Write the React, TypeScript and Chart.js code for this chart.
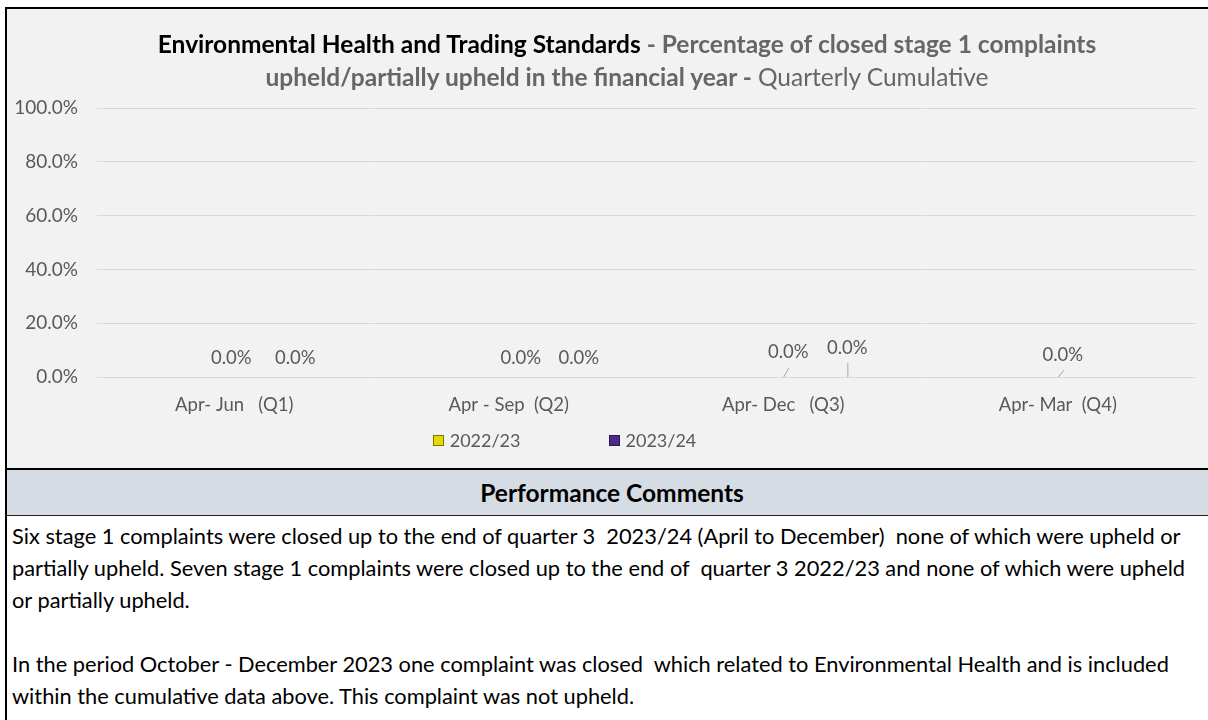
import React, { useEffect, useRef } from "react";
import { Chart, registerables } from "chart.js";

Chart.register(...registerables);

const categories = ["Apr- Jun   (Q1)", "Apr - Sep  (Q2)", "Apr- Dec   (Q3)", "Apr- Mar  (Q4)"];
const seriesNames = ["2022/23", "2023/24"];
const values2022 = [0, 0, 0, 0];
const values2023: (number | null)[] = [0, 0, 0, null];
const yTicks = [0, 0.2, 0.4, 0.6, 0.8, 1.0];

const seriesColors = ["#e3da00", "#4f2a87"];
const seriesBorders = ["#7d7800", "#2a1550"];

// label placement tweaks (style only): [dx, dy, leader [x0, x1, dy1] | null]
const labelPlacement: any[][] = [
  [[-3, -19, null], [12, -19, null], [5, -25, [0, 5, -9]], [5, -22, [0, 6, -7]]],
  [[-3, -19, null], [6, -19, null], [0, -29, [0, 0, -14]], null],
];

const FONT = "Lato, 'Open Sans', sans-serif";
const GREY = "#595959";

const labelPlugin = {
  id: "valueLabels",
  afterDatasetsDraw(chart: any) {
    const ctx = chart.ctx;
    ctx.save();
    ctx.font = `18.5px ${FONT}`;
    ctx.fillStyle = GREY;
    ctx.strokeStyle = "#a6a6a6";
    ctx.lineWidth = 1;
    ctx.textAlign = "center";
    ctx.textBaseline = "middle";
    chart.data.datasets.forEach((ds: any, di: number) => {
      const meta = chart.getDatasetMeta(di);
      meta.data.forEach((el: any, i: number) => {
        const v = ds.data[i];
        if (v === null || v === undefined) return;
        const place = labelPlacement[di][i];
        if (!place) return;
        const props = el.getProps(["x", "y", "width"], true);
        const ax = props.x + props.width / 2;
        const ay = props.y;
        const [dx, dy, leader] = place;
        if (leader) {
          ctx.beginPath();
          ctx.moveTo(ax + leader[0] + 0.5, ay);
          ctx.lineTo(ax + leader[1] + 0.5, ay + leader[2]);
          ctx.stroke();
        }
        ctx.fillText((v * 100).toFixed(1) + "%", ax + dx, ay + dy);
      });
    });
    ctx.restore();
  },
};

function ChartBox() {
  const ref = useRef<HTMLCanvasElement>(null);
  useEffect(() => {
    if (!ref.current) return;
    const chart = new Chart(ref.current, {
      type: "bar",
      data: {
        labels: categories,
        datasets: [
          { label: seriesNames[0], data: values2022, backgroundColor: seriesColors[0], borderWidth: 0 },
          { label: seriesNames[1], data: values2023, backgroundColor: seriesColors[1], borderWidth: 0 },
        ],
      },
      options: {
        responsive: false,
        animation: false,
        maintainAspectRatio: false,
        layout: { padding: { top: 99, left: 9, right: 13, bottom: 51 } },
        datasets: { bar: { categoryPercentage: 0.467, barPercentage: 1 } },
        plugins: { legend: { display: false }, title: { display: false }, tooltip: { enabled: false } },
        scales: {
          x: {
            grid: { display: false, drawTicks: false, tickLength: 0 },
            border: { display: false },
            ticks: { color: GREY, font: { size: 18.5, family: FONT }, padding: 17, maxRotation: 0, autoSkip: false },
            afterFit: (axis: any) => {
              axis.height = 40;
            },
          },
          y: {
            min: 0,
            max: 1,
            afterBuildTicks: (axis: any) => {
              axis.ticks = yTicks.map((v) => ({ value: v }));
            },
            afterFit: (axis: any) => {
              axis.width = 81;
            },
            grid: { color: "#d9d9d9", drawTicks: false, tickLength: 0 },
            border: { display: false },
            ticks: {
              color: GREY,
              font: { size: 19, family: FONT },
              padding: 19,
              callback: (v: any) => (Number(v) * 100).toFixed(1) + "%",
            },
          },
        },
      },
      plugins: [labelPlugin],
    });
    return () => chart.destroy();
  }, []);
  return <canvas ref={ref} width={1201} height={459} style={{ position: "absolute", left: 0, top: 0 }} />;
}

export default function App() {
  return (
    <div
      style={{
        position: "absolute",
        left: 5,
        top: 7,
        width: 1210,
        height: 720,
        borderLeft: "2px solid #000",
        borderTop: "2px solid #000",
        fontFamily: FONT,
        background: "#fff",
      }}
    >
      <div style={{ position: "relative", height: 459, background: "#f2f2f2", borderBottom: "2px solid #000" }}>
        <ChartBox />
        <div
          style={{
            position: "absolute",
            left: 0,
            width: 1240,
            top: 18,
            textAlign: "center",
            fontSize: 24.5,
            lineHeight: "33px",
            fontWeight: 700,
            color: "#666666",
            whiteSpace: "nowrap",
          }}
        >
          <span style={{ color: "#000" }}>Environmental Health and Trading Standards</span> - Percentage of closed stage 1 complaints
          <br />
          upheld/partially upheld in the financial year - <span style={{ fontWeight: 400 }}>Quarterly Cumulative</span>
        </div>
        <div
          style={{
            position: "absolute",
            left: 0,
            width: 1115,
            top: 421,
            display: "flex",
            justifyContent: "center",
            gap: 88,
            fontSize: 18,
            color: GREY,
            lineHeight: "20px",
          }}
        >
          {seriesNames.map((n, i) => (
            <div key={n} style={{ display: "flex", alignItems: "center" }}>
              <span
                style={{
                  display: "inline-block",
                  width: 9,
                  height: 9,
                  background: seriesColors[i],
                  border: `1px solid ${seriesBorders[i]}`,
                  marginRight: 6,
                }}
              />
              {n}
            </div>
          ))}
        </div>
      </div>
      <div
        style={{
          height: 45,
          background: "#d6dce4",
          borderBottom: "1px solid #222",
          textAlign: "center",
          lineHeight: "45px",
          fontSize: 24.5,
          fontWeight: 700,
          color: "#000",
        }}
      >
        Performance Comments
      </div>
      <div style={{ paddingTop: 4, paddingLeft: 5, fontSize: 21.8, lineHeight: "32px", color: "#000", whiteSpace: "pre" }}>
        {"Six stage 1 complaints were closed up to the end of quarter 3  2023/24 (April to December)  none of which were upheld or\n" +
          "partially upheld. Seven stage 1 complaints were closed up to the end of  quarter 3 2022/23 and none of which were upheld\n" +
          "or partially upheld.\n" +
          "\n" +
          "In the period October - December 2023 one complaint was closed  which related to Environmental Health and is included\n" +
          "within the cumulative data above. This complaint was not upheld."}
      </div>
    </div>
  );
}
